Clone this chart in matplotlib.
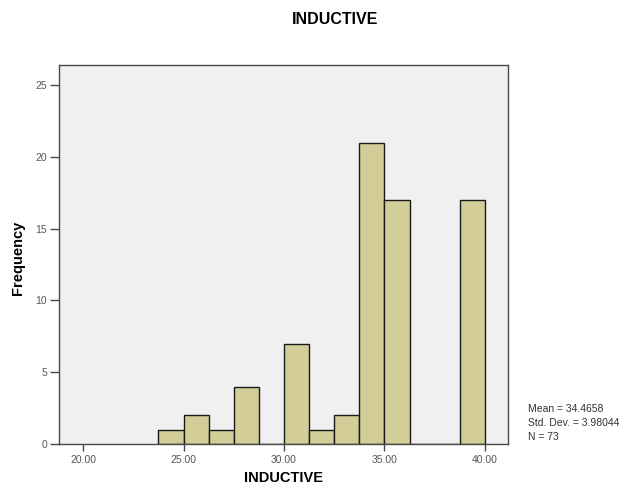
import numpy as np
import matplotlib
matplotlib.use("Agg")
import matplotlib.pyplot as plt

plt.rcParams["font.family"] = ["Liberation Sans", "DejaVu Sans"]

# histogram bins (width 1.25) and counts
bin_edges = [23.75, 25.0, 26.25, 27.5, 28.75, 30.0, 31.25, 32.5,
             33.75, 35.0, 36.25, 37.5, 38.75, 40.0]
counts = [1, 2, 1, 4, 0, 7, 1, 2, 21, 17, 0, 0, 17]
x_ticks = [20, 25, 30, 35, 40]
x_tick_labels = ["20.00", "25.00", "30.00", "35.00", "40.00"]
y_ticks = [0, 5, 10, 15, 20, 25]
stats_lines = ["Mean = 34.4658", "Std. Dev. = 3.98044", "N = 73"]

fig = plt.figure(figsize=(6.33, 4.95), dpi=100)
ax = fig.add_axes([59 / 633, 1 - 444 / 495, (508 - 59) / 633, (444 - 65) / 495])
ax.set_facecolor("#f0f0f0")

widths = np.diff(bin_edges)
ax.bar(bin_edges[:-1], counts, width=widths, align="edge",
       color="#d3ce98", edgecolor="#1a1a1a", linewidth=1.0)

ax.set_xlim(18.8, 41.15)
ax.set_ylim(0, 26.4)
ax.set_xticks(x_ticks)
ax.set_xticklabels(x_tick_labels)
ax.set_yticks(y_ticks)

for s in ax.spines.values():
    s.set_color("#4a4a4a")
    s.set_linewidth(1.0)
ax.tick_params(axis="x", direction="out", length=5, width=1, color="#4a4a4a",
               labelsize=7.5, labelcolor="#555555", pad=3)
ax.tick_params(axis="y", direction="out", length=6.5, width=1, color="#4a4a4a",
               labelsize=7.5, labelcolor="#555555", pad=2)

ax.set_xlabel("INDUCTIVE", fontsize=10.5, fontweight="bold", labelpad=4)
fig.text(18 / 633, 1 - 258 / 495, "Frequency", rotation=90, fontsize=10.5,
         fontweight="bold", ha="center", va="center")
fig.text(335 / 633, 1 - 20 / 495, "INDUCTIVE", fontsize=11.5, fontweight="bold",
         ha="center", va="center")

for i, line in enumerate(stats_lines):
    fig.text(528 / 633, 1 - (409 + i * 14) / 495, line, fontsize=7.5,
             color="#333333", ha="left", va="center")

plt.savefig("out.png", dpi=100)
